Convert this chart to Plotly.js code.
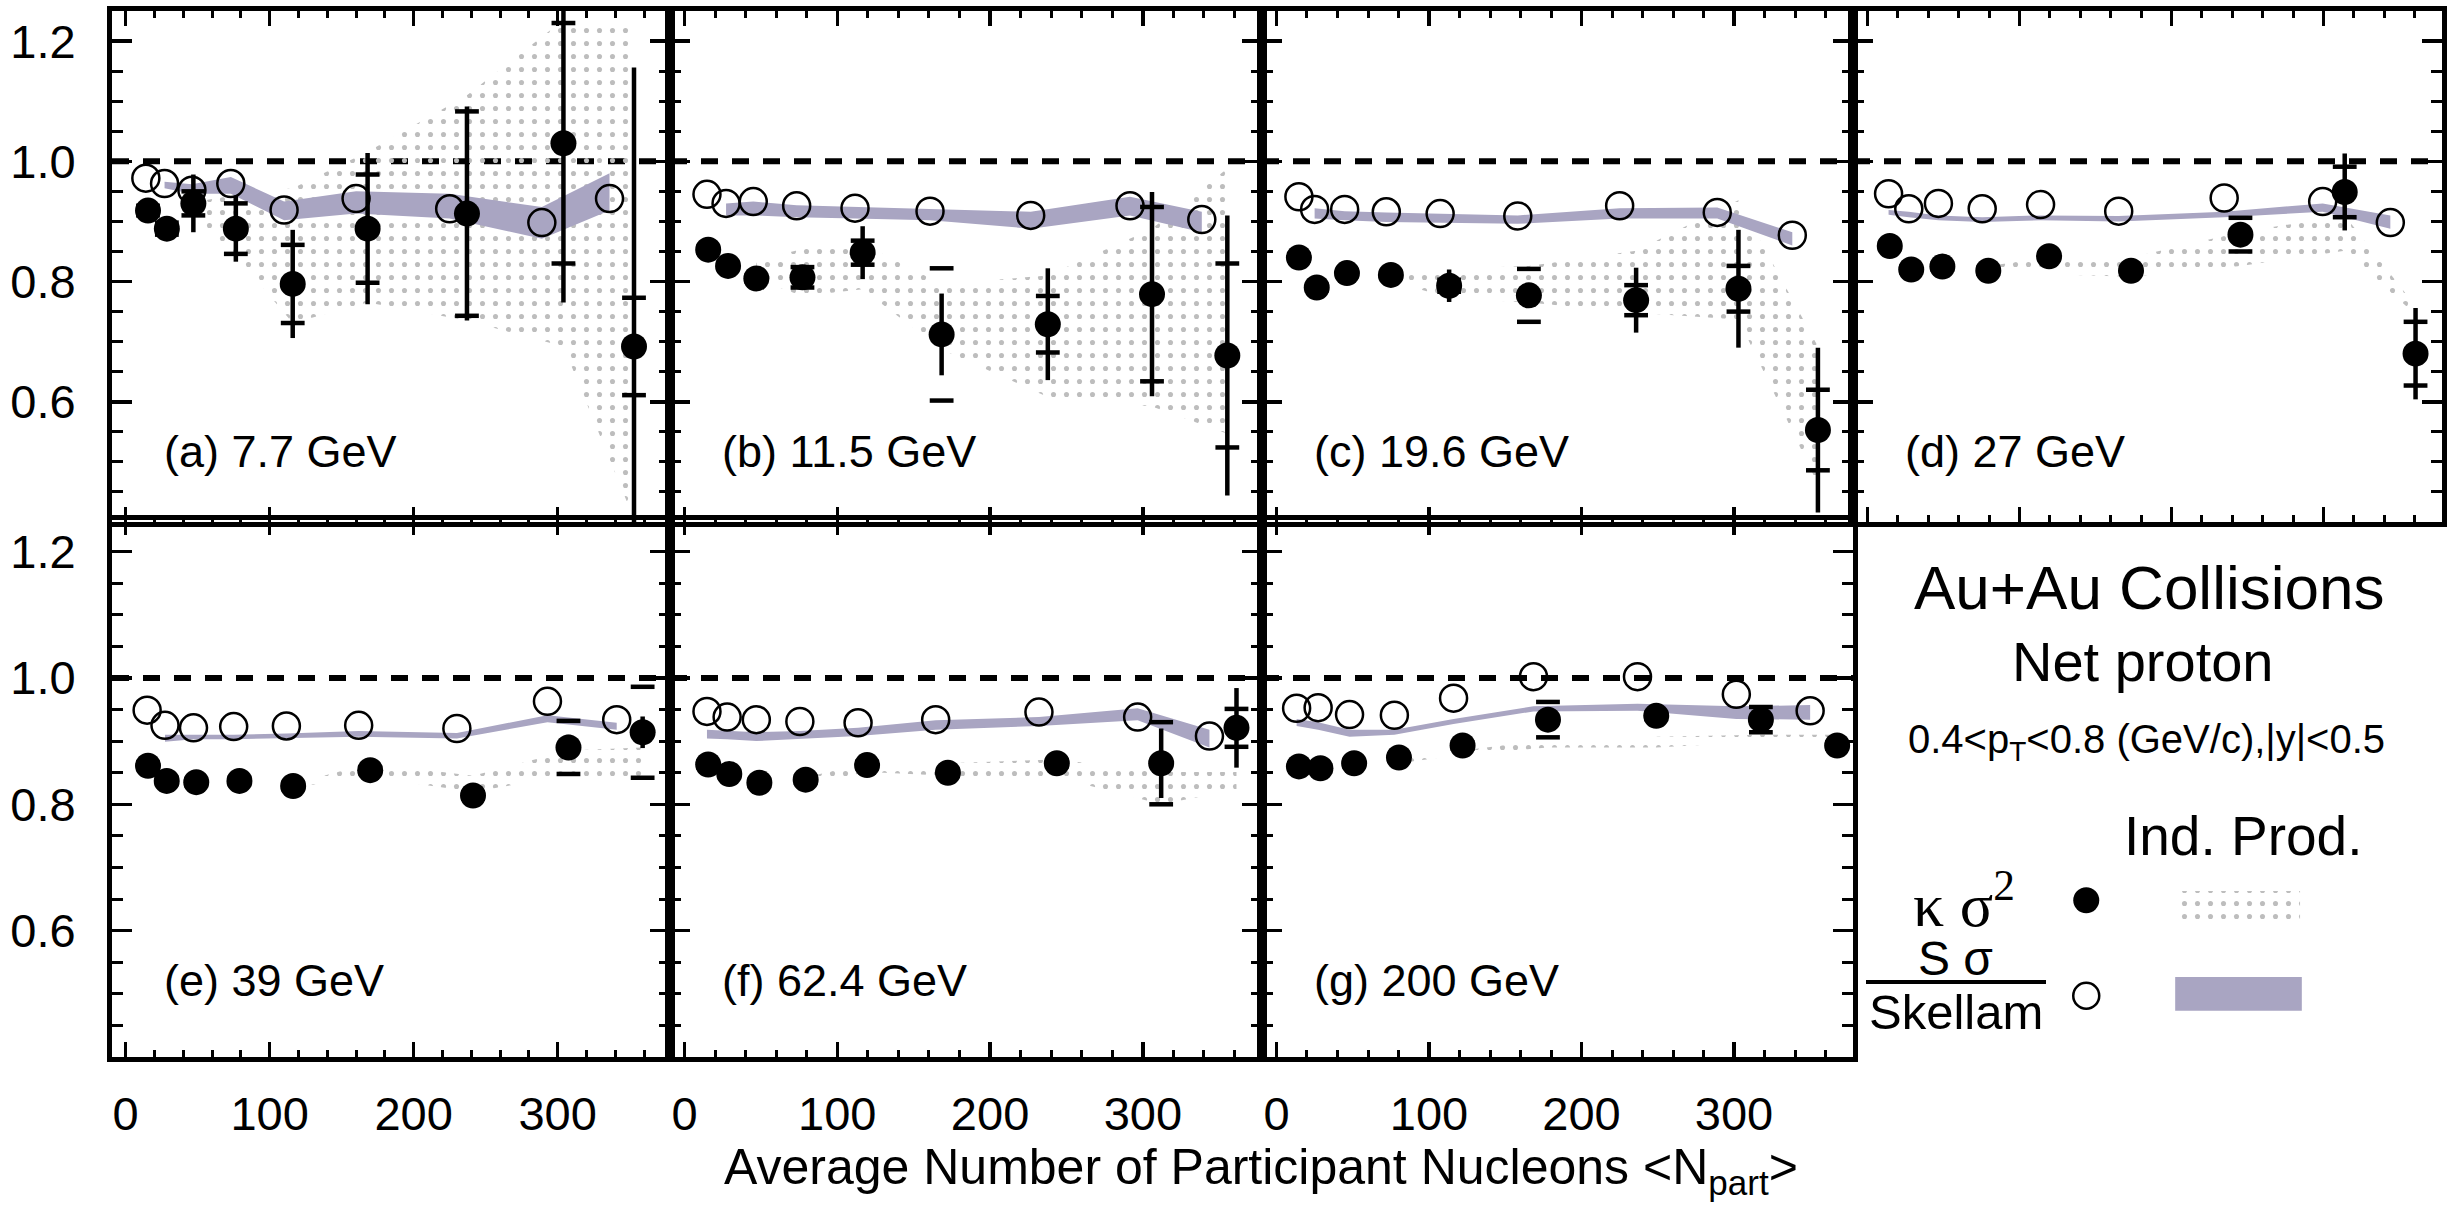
<!DOCTYPE html>
<html><head><meta charset="utf-8">
<script src="https://cdn.plot.ly/plotly-3.0.1.min.js"></script>
<style>html,body{margin:0;padding:0;background:#fff}#chart{width:2453px;height:1217px}</style>
</head><body><div id="chart"></div>
<script>
// ================= DATA =================
const panelLabels = ['(a) 7.7 GeV','(b) 11.5 GeV','(c) 19.6 GeV','(d) 27 GeV','(e) 39 GeV','(f) 62.4 GeV','(g) 200 GeV'];
const xTickVals = [0, 100, 200, 300];
const xTickText = ['0', '100', '200', '300'];
const yTickVals = [0.6, 0.8, 1.0, 1.2];
const yTickText = ['0.6', '0.8', '1.0', '1.2'];

// (a) 7.7 GeV
const npartK_a = [15.5, 28.6, 47, 76.5, 116, 168, 237, 304, 353];
const kappa_a  = [0.918, 0.888, 0.930, 0.888, 0.796, 0.888, 0.913, 1.030, 0.692];
const kStat_a  = [0.012, 0.020, 0.048, 0.055, 0.090, 0.126, 0.178, 0.265, 0.464];
const kSys_a   = [0.008, 0.010, 0.020, 0.042, 0.065, 0.090, 0.170, 0.200, 0.081];
const indKHi_a = [null, null, 0.932, 0.944, 0.955, 1.016, 1.110, 1.235, 1.223];
const indKLo_a = [null, null, 0.904, 0.843, 0.731, 0.765, 0.735, 0.692, 0.405];
const npartS_a = [14, 27, 46, 73, 110, 160, 225, 289, 336];
const skel_a   = [0.972, 0.963, 0.952, 0.963, 0.919, 0.938, 0.921, 0.898, 0.938];
const indSHi_a = [null, 0.966, 0.962, 0.974, 0.933, 0.950, 0.946, 0.924, 0.980];
const indSLo_a = [null, 0.955, 0.946, 0.946, 0.902, 0.913, 0.905, 0.871, 0.918];

// (b) 11.5 GeV
const npartK_b = [15.5, 28.5, 47, 77.2, 116.6, 168.3, 237.8, 306, 355.3];
const kappa_b  = [0.853, 0.826, 0.805, 0.807, 0.848, 0.712, 0.729, 0.779, 0.677];
const kStat_b  = [0.010, 0.010, 0.010, 0.010, 0.044, 0.068, 0.093, 0.170, 0.233];
const kSys_b   = [0.005, 0.005, 0.005, 0.017, 0.020, 0.110, 0.047, 0.145, 0.153];
const indKHi_b = [null, null, 0.835, 0.854, 0.863, 0.796, 0.810, 0.888, 0.988];
const indKLo_b = [null, null, 0.804, 0.776, 0.787, 0.687, 0.608, 0.592, 0.547];
const npartS_b = [14.7, 27.2, 45, 73.4, 111.6, 160.7, 226.6, 291.6, 338.6];
const skel_b   = [0.945, 0.930, 0.933, 0.926, 0.922, 0.917, 0.910, 0.926, 0.903];
const indSHi_b = [null, 0.930, 0.933, 0.927, 0.924, 0.921, 0.916, 0.941, 0.916];
const indSLo_b = [null, 0.910, 0.910, 0.907, 0.905, 0.902, 0.888, 0.910, 0.882];

// (c) 19.6 GeV
const npartK_c = [14.7, 26.4, 46.2, 75, 113.2, 165.5, 235.8, 302.9, 355];
const kappa_c  = [0.840, 0.790, 0.814, 0.811, 0.793, 0.777, 0.769, 0.788, 0.553];
const kStat_c  = [0.010, 0.010, 0.010, 0.010, 0.027, 0.020, 0.054, 0.098, 0.137];
const kSys_c   = [0.005, 0.005, 0.005, 0.005, 0.010, 0.044, 0.025, 0.038, 0.067];
const indKHi_c = [null, null, null, 0.815, 0.821, 0.826, 0.851, 0.935, 0.692];
const indKLo_c = [null, null, null, 0.801, 0.773, 0.765, 0.748, 0.737, 0.463];
const npartS_c = [14.7, 25, 44.7, 72, 107.3, 158.2, 225, 289, 338.2];
const skel_c   = [0.941, 0.920, 0.920, 0.916, 0.913, 0.909, 0.926, 0.915, 0.877];
const indSHi_c = [null, 0.922, 0.917, 0.915, 0.913, 0.910, 0.922, 0.923, 0.882];
const indSLo_c = [null, 0.905, 0.902, 0.899, 0.898, 0.896, 0.905, 0.905, 0.860];

// (d) 27 GeV
const npartK_d = [14.7, 28.8, 49.3, 79.5, 119.5, 173.4, 245.4, 314, 360.6];
const kappa_d  = [0.859, 0.820, 0.825, 0.818, 0.842, 0.818, 0.878, 0.949, 0.680];
const kStat_d  = [0.010, 0.010, 0.010, 0.010, 0.010, 0.010, 0.015, 0.064, 0.076];
const kSys_d   = [0.005, 0.005, 0.005, 0.005, 0.005, 0.005, 0.028, 0.042, 0.053];
const indKHi_d = [null, null, null, 0.826, 0.840, 0.840, 0.882, 0.910, 0.759];
const indKLo_d = [null, null, null, 0.812, 0.812, 0.808, 0.826, 0.851, 0.745];
const npartS_d = [13.9, 27.2, 46.7, 75.5, 113.9, 165.3, 234.7, 299.5, 344];
const skel_d   = [0.946, 0.921, 0.930, 0.921, 0.928, 0.917, 0.939, 0.933, 0.898];
const indSHi_d = [0.919, 0.916, 0.910, 0.907, 0.910, 0.909, 0.916, 0.930, 0.910];
const indSLo_d = [0.911, 0.907, 0.902, 0.899, 0.902, 0.900, 0.907, 0.916, 0.888];

// (e) 39 GeV
const npartK_e = [15.5, 28.5, 49, 79, 116.3, 169.8, 241.2, 307.5, 359];
const kappa_e  = [0.861, 0.837, 0.835, 0.837, 0.829, 0.854, 0.814, 0.890, 0.914];
const kStat_e  = [0.010, 0.010, 0.010, 0.010, 0.010, 0.010, 0.010, 0.020, 0.025];
const kSys_e   = [0.005, 0.005, 0.005, 0.005, 0.005, 0.005, 0.005, 0.042, 0.072];
const indKHi_e = [null, null, null, null, 0.832, 0.865, 0.845, 0.885, 0.890];
const indKLo_e = [null, null, null, null, 0.827, 0.843, 0.820, 0.845, 0.843];
const npartS_e = [14.9, 27.3, 47.1, 75, 111.6, 161.8, 230, 292.9, 341];
const skel_e   = [0.949, 0.925, 0.921, 0.923, 0.924, 0.925, 0.920, 0.963, 0.934];
const indSHi_e = [null, 0.910, 0.910, 0.910, 0.912, 0.916, 0.913, 0.941, 0.929];
const indSLo_e = [null, 0.899, 0.903, 0.903, 0.904, 0.907, 0.904, 0.930, 0.918];

// (f) 62.4 GeV
const npartK_f = [15.5, 29.3, 49, 79.3, 119.5, 172.4, 243.7, 312, 361.3];
const kappa_f  = [0.863, 0.848, 0.834, 0.839, 0.862, 0.850, 0.865, 0.865, 0.921];
const kStat_f  = [0.010, 0.010, 0.010, 0.010, 0.010, 0.010, 0.015, 0.055, 0.063];
const kSys_f   = [0.005, 0.005, 0.005, 0.005, 0.005, 0.005, 0.005, 0.065, 0.030];
const indKHi_f = [null, null, null, 0.843, 0.865, 0.865, 0.871, 0.851, 0.851];
const indKLo_f = [null, null, null, 0.831, 0.851, 0.845, 0.843, 0.800, 0.823];
const npartS_f = [14.7, 27.9, 47, 75.5, 113.6, 164.4, 232, 296.6, 343.6];
const skel_f   = [0.947, 0.938, 0.934, 0.931, 0.929, 0.934, 0.946, 0.938, 0.908];
const indSHi_f = [0.918, 0.916, 0.914, 0.916, 0.921, 0.933, 0.938, 0.952, 0.918];
const indSLo_f = [0.904, 0.903, 0.900, 0.903, 0.908, 0.918, 0.924, 0.933, 0.890];

// (g) 200 GeV
const npartK_g = [14.7, 28.8, 50.9, 80.3, 122, 178, 249, 317.6, 367.6];
const kappa_g  = [0.860, 0.857, 0.865, 0.874, 0.893, 0.934, 0.940, 0.934, 0.893];
const kStat_g  = [0.010, 0.010, 0.010, 0.010, 0.010, 0.010, 0.010, 0.010, 0.015];
const kSys_g   = [0.005, 0.005, 0.005, 0.005, 0.005, 0.028, 0.005, 0.020, 0.005];
const indKHi_g = [null, null, null, 0.871, 0.885, 0.902, 0.907, 0.910, 0.910];
const indKLo_g = [null, null, null, 0.865, 0.879, 0.890, 0.890, 0.899, 0.896];
const npartS_g = [13.2, 27.3, 47.9, 77.3, 116.1, 168.5, 236.7, 301.5, 349.9];
const skel_g   = [0.952, 0.953, 0.942, 0.941, 0.968, 1.002, 1.002, 0.974, 0.948];
const indSHi_g = [0.935, 0.930, 0.918, 0.918, 0.935, 0.955, 0.959, 0.955, 0.957];
const indSLo_g = [0.924, 0.918, 0.907, 0.910, 0.927, 0.947, 0.948, 0.935, 0.934];

// ================= BUILD =================
const panels = [
  {xk:npartK_a, k:kappa_a, st:kStat_a, sy:kSys_a, kh:indKHi_a, kl:indKLo_a, xs:npartS_a, s:skel_a, sh:indSHi_a, sl:indSLo_a},
  {xk:npartK_b, k:kappa_b, st:kStat_b, sy:kSys_b, kh:indKHi_b, kl:indKLo_b, xs:npartS_b, s:skel_b, sh:indSHi_b, sl:indSLo_b},
  {xk:npartK_c, k:kappa_c, st:kStat_c, sy:kSys_c, kh:indKHi_c, kl:indKLo_c, xs:npartS_c, s:skel_c, sh:indSHi_c, sl:indSLo_c},
  {xk:npartK_d, k:kappa_d, st:kStat_d, sy:kSys_d, kh:indKHi_d, kl:indKLo_d, xs:npartS_d, s:skel_d, sh:indSHi_d, sl:indSLo_d},
  {xk:npartK_e, k:kappa_e, st:kStat_e, sy:kSys_e, kh:indKHi_e, kl:indKLo_e, xs:npartS_e, s:skel_e, sh:indSHi_e, sl:indSLo_e},
  {xk:npartK_f, k:kappa_f, st:kStat_f, sy:kSys_f, kh:indKHi_f, kl:indKLo_f, xs:npartS_f, s:skel_f, sh:indSHi_f, sl:indSLo_f},
  {xk:npartK_g, k:kappa_g, st:kStat_g, sy:kSys_g, kh:indKHi_g, kl:indKLo_g, xs:npartS_g, s:skel_g, sh:indSHi_g, sl:indSLo_g}
];

const W = 2453, H = 1217;
const FONT = 'Liberation Sans, Arial, Helvetica, sans-serif';
const PURPLE = '#a9a5c2';
const DOTS = {shape: '.', fgcolor: '#bdbdbd', bgcolor: 'rgba(0,0,0,0)', size: 13, solidity: 0.12};
const colPx = [[112, 670], [670, 1262], [1262, 1853], [1853, 2442]];
const rowPx = [[11, 522], [520, 1057]];
const XR = [-9.5, 378], YR = [0.4, 1.25];

function band(xs, hi, lo) {
  const X = [], U = [], L = [];
  xs.forEach((x, i) => { if (hi[i] !== null && lo[i] !== null) { X.push(x); U.push(hi[i]); L.push(lo[i]); } });
  return {x: X.concat(X.slice().reverse()), y: U.concat(L.slice().reverse())};
}

const traces = [];
const layout = {
  width: W, height: H, margin: {l: 0, r: 0, t: 0, b: 0},
  paper_bgcolor: '#fff', plot_bgcolor: 'rgba(0,0,0,0)',
  showlegend: false, font: {family: FONT, color: '#000'},
  annotations: [], shapes: []
};

for (let p = 0; p < 8; p++) {
  const c = p % 4, r = Math.floor(p / 4);
  const id = p === 0 ? '' : String(p + 1);
  layout['xaxis' + id] = {
    domain: [colPx[c][0] / W, colPx[c][1] / W], range: XR, anchor: 'y' + id,
    showline: true, linewidth: 5, linecolor: '#000', mirror: 'ticks',
    ticks: 'inside', ticklen: 15, tickwidth: 3.5, tickcolor: '#000',
    tickmode: 'array', tickvals: xTickVals, ticktext: xTickText,
    showticklabels: r === 1, tickfont: {size: 47, family: FONT}, ticklabelstandoff: 12,
    showgrid: false, zeroline: false, fixedrange: true,
    minor: {tickmode: 'linear', tick0: 0, dtick: 20, ticklen: 7, tickwidth: 3, tickcolor: '#000', ticks: 'inside', showgrid: false}
  };
  layout['yaxis' + id] = {
    domain: [1 - rowPx[r][1] / H, 1 - rowPx[r][0] / H], range: YR, anchor: 'x' + id,
    showline: true, linewidth: 5, linecolor: '#000', mirror: 'ticks',
    ticks: 'inside', ticklen: 20, tickwidth: 3.5, tickcolor: '#000',
    tickmode: 'array', tickvals: yTickVals, ticktext: yTickText,
    showticklabels: c === 0, tickfont: {size: 47, family: FONT}, ticklabelstandoff: 22,
    showgrid: false, zeroline: false, fixedrange: true,
    minor: {tickmode: 'linear', tick0: 0, dtick: 0.05, ticklen: 11, tickwidth: 3, tickcolor: '#000', ticks: 'inside', showgrid: false}
  };
  if (p < 7) {
    layout.shapes.push({type: 'line', xref: 'x' + id + ' domain', yref: 'y' + id, x0: 0, x1: 1, y0: 1, y1: 1,
      line: {color: '#000', width: 6, dash: '17px,14px'}, layer: 'below'});
    layout.annotations.push({text: panelLabels[p], xref: 'x' + id + ' domain', yref: 'y' + id + ' domain',
      x: 0, y: 0, xshift: 50, yshift: r === 0 ? 70 : 77, xanchor: 'left', yanchor: 'middle', showarrow: false,
      font: {size: 45, family: FONT}});
  }
}

panels.forEach((d, p) => {
  const id = p === 0 ? '' : String(p + 1);
  const xa = 'x' + id, ya = 'y' + id;
  const kb = band(d.xk, d.kh, d.kl);
  traces.push({type: 'scatter', mode: 'lines', x: kb.x, y: kb.y, xaxis: xa, yaxis: ya, fill: 'toself',
    fillcolor: 'rgba(0,0,0,0)', fillpattern: DOTS, line: {width: 0}, hoverinfo: 'skip'});
  const sb = band(d.xs, d.sh, d.sl);
  traces.push({type: 'scatter', mode: 'lines', x: sb.x, y: sb.y, xaxis: xa, yaxis: ya, fill: 'toself',
    fillcolor: PURPLE, line: {width: 0}, hoverinfo: 'skip'});
  // systematic caps
  traces.push({type: 'scatter', mode: 'markers', xaxis: xa, yaxis: ya,
    x: d.xk.concat(d.xk), y: d.k.map((v, i) => v + d.sy[i]).concat(d.k.map((v, i) => v - d.sy[i])),
    marker: {symbol: 'line-ew-open', size: 17, color: '#000', line: {width: 4.5, color: '#000'}}, hoverinfo: 'skip'});
  // kappa sigma^2 with stat errors
  traces.push({type: 'scatter', mode: 'markers', xaxis: xa, yaxis: ya, x: d.xk, y: d.k,
    error_y: {type: 'data', array: d.st, visible: true, thickness: 4.5, width: 0, color: '#000'},
    marker: {symbol: 'circle', size: 26, color: '#000'}, name: 'κσ²'});
  // S sigma / Skellam
  traces.push({type: 'scatter', mode: 'markers', xaxis: xa, yaxis: ya, x: d.xs, y: d.s,
    marker: {symbol: 'circle-open', size: 27, color: '#000', line: {width: 2.5, color: '#000'}}, name: 'Sσ/Skellam'});
});

// ---------- legend panel (h): helper axes covering the same area ----------
layout.xaxis9 = {domain: [colPx[3][0] / W, colPx[3][1] / W], range: [0, 1], visible: false, fixedrange: true, anchor: 'y9'};
layout.yaxis9 = {domain: [1 - rowPx[1][1] / H, 1 - rowPx[1][0] / H], range: [0, 1], visible: false, fixedrange: true, anchor: 'x9'};
traces.push({type: 'scatter', mode: 'markers', xaxis: 'x9', yaxis: 'y9', x: [0.396], y: [0.292],
  marker: {symbol: 'circle', size: 26, color: '#000'}, hoverinfo: 'skip'});
traces.push({type: 'scatter', mode: 'markers', xaxis: 'x9', yaxis: 'y9', x: [0.396], y: [0.114],
  marker: {symbol: 'circle-open', size: 26, color: '#000', line: {width: 2.5}}, hoverinfo: 'skip'});
traces.push({type: 'scatter', mode: 'lines', xaxis: 'x9', yaxis: 'y9',
  x: [0.547, 0.759, 0.759, 0.547, 0.547], y: [0.255, 0.255, 0.309, 0.309, 0.255],
  fill: 'toself', fillcolor: 'rgba(0,0,0,0)', fillpattern: DOTS, line: {width: 0}, hoverinfo: 'skip'});
traces.push({type: 'scatter', mode: 'lines', xaxis: 'x9', yaxis: 'y9',
  x: [0.547, 0.762, 0.762, 0.547, 0.547], y: [0.086, 0.086, 0.149, 0.149, 0.086],
  fill: 'toself', fillcolor: PURPLE, line: {width: 0}, hoverinfo: 'skip'});

layout.shapes.push({type: 'line', xref: 'paper', yref: 'paper', x0: 1866 / W, x1: 2046 / W, y0: 1 - 982 / H, y1: 1 - 982 / H,
  line: {color: '#000', width: 4}});

function ann(text, xpx, ypx, size, extra) {
  layout.annotations.push(Object.assign({text: text, xref: 'paper', yref: 'paper', x: xpx / W, y: 1 - ypx / H,
    xanchor: 'center', yanchor: 'middle', showarrow: false, font: {size: size, family: FONT, color: '#000'}}, extra || {}));
}
ann('Au+Au Collisions', 2149, 587, 62);
ann('Net proton', 2143, 661, 56);
ann('0.4&lt;p<sub>T</sub>&lt;0.8 (GeV/c),|y|&lt;0.5', 2146, 742, 40);
ann('Ind. Prod.', 2243, 836, 55);
ann('κ σ<sup>2</sup>', 1964, 900, 62, {font: {size: 62, family: 'Liberation Serif, Times New Roman, serif', color: '#000'}});
ann('S σ', 1955, 958, 48);
ann('Skellam', 1956, 1012, 49);
ann('Average Number of Participant Nucleons &lt;N<sub>part</sub>&gt;', 1261, 1170, 50);

Plotly.newPlot('chart', traces, layout, {staticPlot: true, displayModeBar: false});
</script>
</body></html>
